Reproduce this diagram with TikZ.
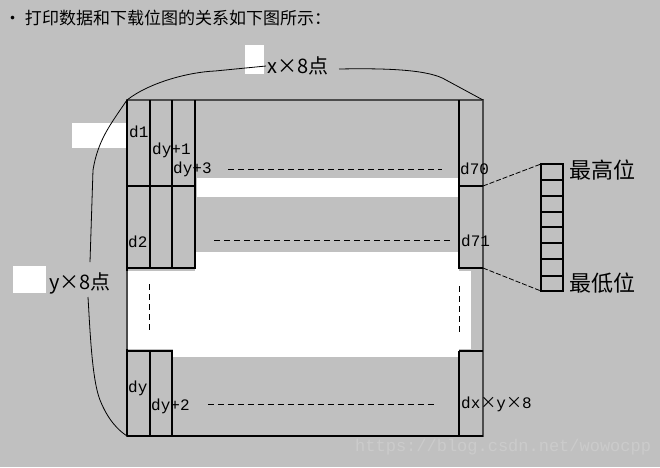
\documentclass[tikz,border=0pt]{standalone}
\usepackage{fontspec}
\newfontfamily\cjk{Noto Sans CJK SC}
\newfontfamily\mono{Liberation Mono}
\newcommand{\tms}{{\cjk ×}}
\begin{document}
\begin{tikzpicture}[x=1pt,y=-1pt,
  lbl/.style={font=\mono\fontsize{16}{16}\selectfont,inner sep=0pt,anchor=west},
  cj/.style={font=\cjk\fontsize{22}{22}\selectfont,inner sep=0pt,anchor=west},
  thick/.style={line width=1.6pt,black},
  dsh/.style={line width=0.8pt,dash pattern=on 6pt off 4pt},
  wb/.style={fill=white,draw=none}]
\fill[fill={rgb,255:red,192;green,192;blue,192}] (0,0) rectangle (660,467);
\useasboundingbox (0,0) rectangle (660,467);
% title
\node[anchor=west,inner sep=0pt,font=\cjk\fontsize{17}{17}\selectfont] (title) at (4,18) {• 打印数据和下载位图的关系如下图所示：};
% white patches
\fill[wb] (245,45) rectangle (264,74);
\fill[wb] (72,123) rectangle (126,148);
\fill[wb] (13,266) rectangle (46,293);
\fill[wb] (197,178) rectangle (459,197);
\fill[wb] (195,252) rectangle (459,271);
\fill[wb] (128,271) rectangle (471,349);
\fill[wb] (173,349) rectangle (459,357);
% outer box
\draw[line width=1.2pt,black!70] (127,100) -- (483,100) -- (483,436) -- (127,436) -- cycle;
\draw[line width=1.4pt] (127,100) -- (127,271) (127,349) -- (127,436) (127,436) -- (483,436);
% inner verticals
\draw[thick] (150,100) -- (150,269) (172,100) -- (172,269) (195,100) -- (195,269) (459,100) -- (459,269);
\draw[thick] (150,351) -- (150,436) (172,351) -- (172,436) (459,351) -- (459,436);
% horizontals
\draw[thick] (127,186) -- (195,186) (459,186) -- (483,186);
\draw[thick] (127,268) -- (195,268) (459,268) -- (483,268);
\draw[thick] (127,351) -- (173,351) (459,351) -- (483,351);
% vertical dashed
\draw[dsh] (149,284) -- (149,330) (459,286) -- (459,332);
% labels
\node[lbl] (d1) at (129,132) {d1};
\node[lbl] (dy1) at (152,150) {dy+1};
\node[lbl] (dy3) at (173,169) {dy+3};
\node[lbl] (d70) at (460,169) {d70};
\node[lbl] (d2) at (128,242) {d2};
\node[lbl] (d71) at (461,241) {d71};
\node[lbl] (dy) at (128,388) {dy};
\node[lbl] (dy2) at (151,406) {dy+2};
\node[lbl] (dxy) at (461,404) {dx\tms y\tms 8};
\draw[dsh] (228,169) -- (442,169);
\draw[dsh] (214,240) -- (452,240);
\draw[dsh] (208,404) -- (436,404);
% braces
\node[cj,font=\cjk\fontsize{20}{20}\selectfont] (xl) at (267,66) {x×8点};
\node[cj,font=\cjk\fontsize{20}{20}\selectfont] (yl) at (49,283) {y×8点};
\draw[line width=0.8pt] (127,100) .. controls (150,82) and (190,72) .. (215,71) -- (266,66);
\draw[line width=0.8pt] (339,69) .. controls (390,68) and (430,70) .. (446,80) -- (483,100);
\draw[line width=0.8pt] (127,100) .. controls (110,125) and (98,140) .. (93,170) -- (90,262);
\draw[line width=0.8pt] (88,297) .. controls (90,330) and (92,380) .. (100,400) .. controls (108,420) and (118,430) .. (127,436);
% bit stack
\foreach \i/\a/\b in {0/164/180,1/180/196,2/196/212,3/212/227,4/227/243,5/243/259,6/259/276,7/276/291}
  \draw[line width=1.2pt] (541,\a) rectangle (563,\b);
\coordinate (st) at (541,164);
\coordinate (sb) at (541,291);
\coordinate (c1) at (483,186);
\coordinate (c2) at (483,268);
\draw[dsh,dash pattern=on 5pt off 2pt] (c1) -- (st);
\draw[dsh,dash pattern=on 5pt off 2pt] (c2) -- (sb);
\node[cj] (hi) at (569,170) {最高位};
\node[cj] (lo) at (569,283) {最低位};
\node[anchor=west,inner sep=0pt,font=\mono\fontsize{17}{17}\selectfont,text={rgb,255:red,203;green,203;blue,203}] (wm) at (355,447) {https://blog.csdn.net/wowocpp};
\end{tikzpicture}
\end{document}
